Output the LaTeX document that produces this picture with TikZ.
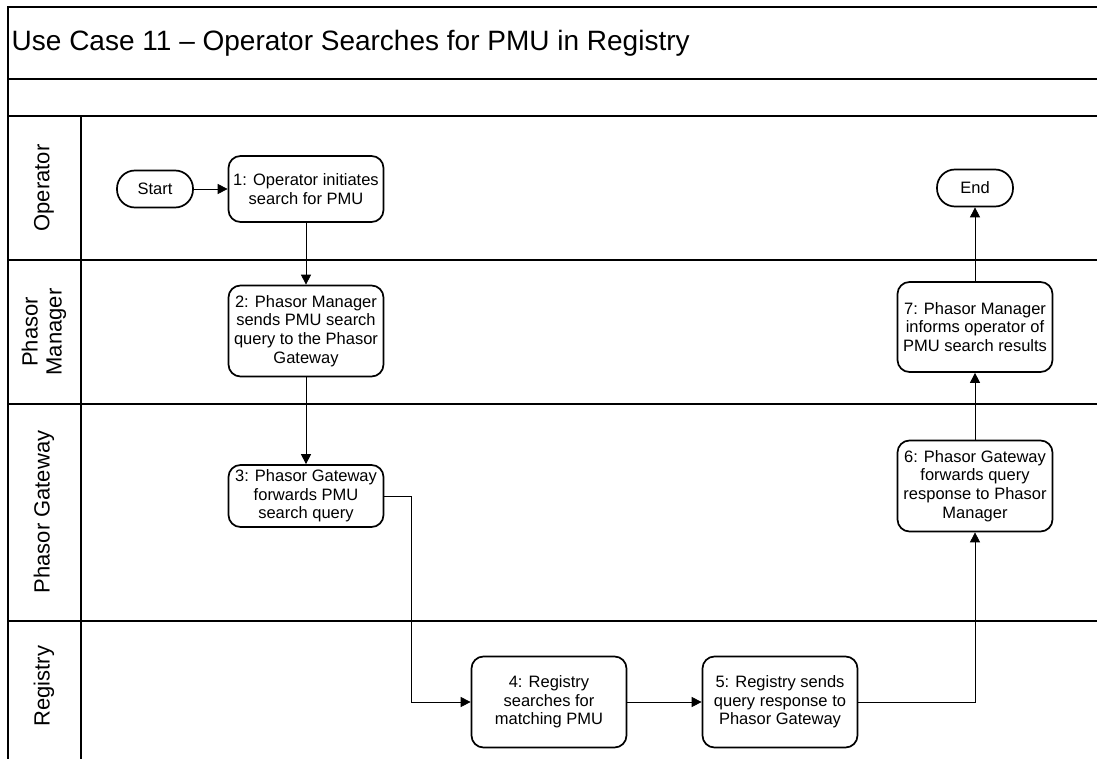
\documentclass[tikz,border=0pt]{standalone}
\usepackage{fontspec}
\setmainfont{Liberation Sans}
\usetikzlibrary{arrows.meta,positioning}

\begin{document}
\begin{tikzpicture}[x=1pt, y=-1pt,
proc/.style = {draw, line width=1.7pt, rounded corners=12pt, align=center, minimum width=155pt, inner sep=2pt, font=\fontsize{16.5}{18.6}\selectfont},
term/.style = {draw, line width=1.7pt, rounded corners=18pt, minimum width=76pt, minimum height=37pt, font=\fontsize{16.5}{18.6}\selectfont},
flow/.style = {-{Triangle[length=10pt,width=10pt]}, line width=0.8pt},
lane/.style = {line width=1.1pt},
lanename/.style = {rotate=90, align=center, font=\fontsize{22}{24}\selectfont},
    thick
                        ]
\useasboundingbox (0,0) rectangle (1097,759);

% frame and title
\draw[lane] (8,759) -- (8,7) -- (1097,7);
\draw[lane] (8,79) -- (1097,79);
\draw[lane] (8,116) -- (1097,116);
\node[anchor=west, font=\fontsize{28}{32}\selectfont] (title) at (8,43) {Use Case 11 – Operator Searches for PMU in Registry};

% lanes
\foreach \y in {260, 404, 621}
{
    \draw[lane] (8,\y) -- (1097,\y);
}
\draw[lane] (81,116) -- (81,759);

\node[lanename] (operator) at (44,188) {Operator};
\node[lanename] (manager) at (44,332) {Phasor\\Manager};
\node[lanename] (gateway) at (44,512) {Phasor Gateway};
\node[lanename] (registry) at (44,686) {Registry};

% steps
\node[term] (start) at (155,189) {Start};
\node[proc, minimum height=66pt] (s1) at (306,189) {1: Operator initiates\\search for PMU};
\node[proc, minimum height=91pt] (s2) at (306,331) {2: Phasor Manager\\sends PMU search\\query to the Phasor\\Gateway};
\node[proc, minimum height=62pt] (s3) at (306,496) {3: Phasor Gateway\\forwards PMU\\search query};
\node[proc, minimum height=91pt] (s4) at (549,702) {4: Registry\\searches for\\matching PMU};
\node[proc, minimum height=91pt] (s5) at (780,702) {5: Registry sends\\query response to\\Phasor Gateway};
\node[proc, minimum height=91pt] (s6) at (975,486) {6: Phasor Gateway\\forwards query\\response to Phasor\\Manager};
\node[proc, minimum height=90pt] (s7) at (975,327) {7: Phasor Manager\\informs operator of\\PMU search results};
\node[term] (stop) at (975,188) {End};

% connectors
\draw[flow] (start) -- (s1);
\draw[flow] (s1) -- (s2);
\draw[flow] (s2) -- (s3);
\draw[flow] (s3.east) -- ++(27,0) |- (s4.west);
\draw[flow] (s4) -- (s5);
\draw[flow] (s5.east) -| (s6.south);
\draw[flow] (s6) -- (s7);
\draw[flow] (s7) -- (stop);

\end{tikzpicture}
\end{document}
